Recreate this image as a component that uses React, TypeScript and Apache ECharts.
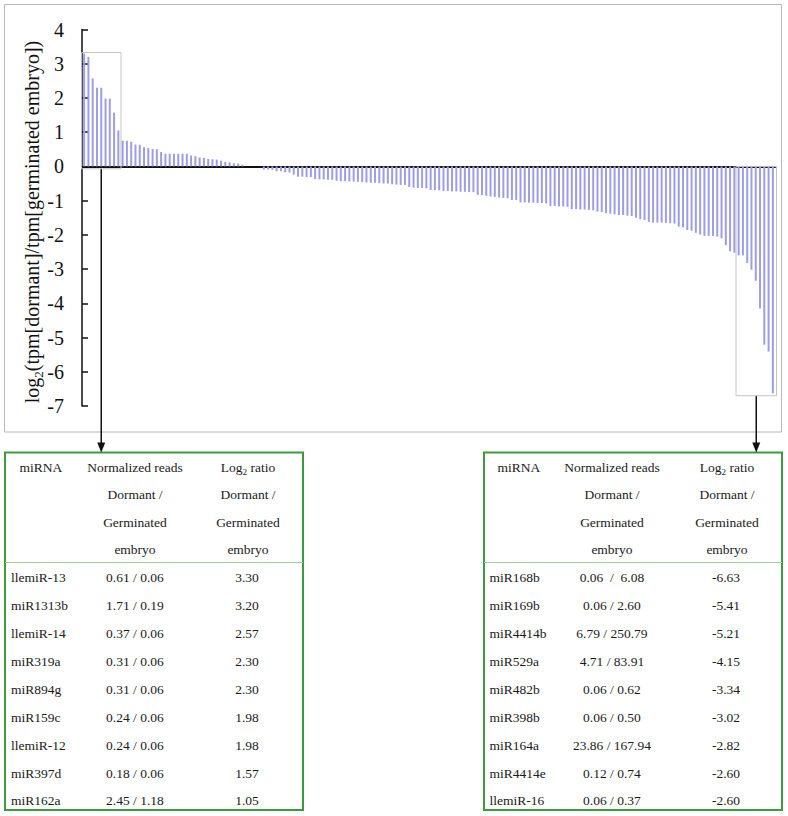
import React, { useEffect, useRef } from 'react';
import * as echarts from 'echarts';

const FONT = '"Liberation Serif", "Times New Roman", serif';

// Table: most up-regulated in dormant embryo (left box)
const leftMiRNA = ['llemiR-13', 'miR1313b', 'llemiR-14', 'miR319a', 'miR894g', 'miR159c', 'llemiR-12', 'miR397d', 'miR162a'];
const leftReads = ['0.61 / 0.06', '1.71 / 0.19', '0.37 / 0.06', '0.31 / 0.06', '0.31 / 0.06', '0.24 / 0.06', '0.24 / 0.06', '0.18 / 0.06', '2.45 / 1.18'];
const leftRatio = [3.3, 3.2, 2.57, 2.3, 2.3, 1.98, 1.98, 1.57, 1.05];

// Table: most down-regulated (right box)
const rightMiRNA = ['miR168b', 'miR169b', 'miR4414b', 'miR529a', 'miR482b', 'miR398b', 'miR164a', 'miR4414e', 'llemiR-16'];
const rightReads = ['0.06  /  6.08', '0.06 / 2.60', '6.79 / 250.79', '4.71 / 83.91', '0.06 / 0.62', '0.06 / 0.50', '23.86 / 167.94', '0.12 / 0.74', '0.06 / 0.37'];
const rightRatio = [-6.63, -5.41, -5.21, -4.15, -3.34, -3.02, -2.82, -2.6, -2.6];

// Remaining bars
const positiveRest = [0.75, 0.75, 0.72, 0.64, 0.63, 0.56, 0.54, 0.51, 0.5, 0.42, 0.37, 0.37, 0.37, 0.37, 0.37, 0.37, 0.32, 0.3, 0.26, 0.25, 0.22, 0.21, 0.2, 0.17, 0.13, 0.12, 0.09, 0.08, 0.05];
const nearZero = [0, 0, 0, 0];
const negativeMiddle = [
  -0.09, -0.09, -0.1, -0.14, -0.14, -0.17, -0.18, -0.24,
  -0.3, -0.3, -0.31, -0.31, -0.37, -0.38, -0.38, -0.39, -0.39,
  -0.42, -0.43, -0.43, -0.44, -0.44, -0.45, -0.46,
  -0.47, -0.48, -0.48, -0.49, -0.5, -0.5,
  -0.52, -0.53, -0.54, -0.54, -0.6, -0.62, -0.63, -0.63, -0.64,
  -0.69, -0.69, -0.7, -0.72, -0.72, -0.73, -0.73, -0.74, -0.74, -0.75, -0.75,
  -0.83, -0.84, -0.86, -0.88, -0.89, -0.91, -0.92, -0.93, -0.98, -0.98,
  -1.05, -1.05, -1.06, -1.06, -1.07, -1.07, -1.08,
  -1.16, -1.16, -1.17, -1.17, -1.18,
  -1.25, -1.25, -1.26, -1.26, -1.27, -1.28, -1.32, -1.33,
  -1.37, -1.38, -1.4, -1.42, -1.42, -1.44, -1.45, -1.5, -1.54, -1.57,
  -1.62, -1.64, -1.64, -1.64, -1.65, -1.66, -1.67, -1.76, -1.78, -1.86,
  -1.88, -1.94, -1.99, -2.03, -2.03, -2.03, -2.05, -2.1, -2.3, -2.48, -2.52,
];

const barValues = [...leftRatio, ...positiveRest, ...nearZero, ...negativeMiddle, ...rightRatio.slice().reverse()];
const categories = barValues.map((_, i) => String(i + 1));

const headerCol2 = ['Normalized reads', 'Dormant /', 'Germinated', 'embryo'];
const headerCol3 = ['{a|Log}{s|2}{a| ratio}', 'Dormant /', 'Germinated', 'embryo'];

const TXT = '#1a1a1a';
const GREEN = '#3d9a3d';

function tableGraphics(
  boxX: number, boxW: number,
  nameLeft: number, mirnaCenter: number, col2Center: number, col3Center: number,
  names: string[], reads: string[], ratios: number[],
) {
  const els: any[] = [];
  const top = 452.5;
  const bottom = 810;
  els.push({ type: 'rect', shape: { x: boxX, y: top, width: boxW, height: bottom - top }, style: { fill: '#fff', stroke: GREEN, lineWidth: 2 }, z: 1 });
  els.push({ type: 'line', shape: { x1: boxX, y1: 562.5, x2: boxX + boxW, y2: 562.5 }, style: { stroke: '#9fcf9f', lineWidth: 1 }, z: 2 });
  const base = { fontSize: 13.5, fontFamily: FONT, fill: TXT, verticalAlign: 'middle' };
  const hy = [467, 494.5, 522, 549.5];
  els.push({ type: 'text', z: 3, style: { ...base, text: 'miRNA', x: mirnaCenter, y: hy[0], align: 'center' } });
  headerCol2.forEach((t, k) => els.push({ type: 'text', z: 3, style: { ...base, text: t, x: col2Center, y: hy[k], align: 'center' } }));
  headerCol3.forEach((t, k) => els.push({
    type: 'text', z: 3,
    style: {
      ...base, text: t, x: col3Center, y: hy[k], align: 'center',
      rich: {
        a: { fontSize: 13.5, fontFamily: FONT, fill: TXT, lineHeight: 18 },
        s: { fontSize: 9, fontFamily: FONT, fill: TXT, verticalAlign: 'bottom', lineHeight: 12 },
      },
    },
  }));
  names.forEach((n, k) => {
    const y = 577.7 + 27.9 * k;
    els.push({ type: 'text', z: 3, style: { ...base, text: n, x: nameLeft, y, align: 'left' } });
    els.push({ type: 'text', z: 3, style: { ...base, text: reads[k], x: col2Center, y, align: 'center' } });
    els.push({ type: 'text', z: 3, style: { ...base, text: ratios[k].toFixed(2), x: col3Center - 1, y, align: 'center' } });
  });
  return els;
}

export default function App() {
  const ref = useRef<HTMLDivElement>(null);
  useEffect(() => {
    const chart = echarts.init(ref.current!, null, { renderer: 'svg' });
    chart.setOption({
      animation: false,
      backgroundColor: '#fff',
      grid: { left: 82, right: 13, top: 29.5, bottom: 410 },
      xAxis: {
        type: 'category',
        data: categories,
        axisLine: { onZero: true, lineStyle: { color: '#111', width: 2 } },
        axisTick: { show: false },
        axisLabel: { show: false },
        splitLine: { show: false },
      },
      yAxis: {
        type: 'value',
        min: -7,
        max: 4,
        interval: 1,
        axisLine: { show: true, lineStyle: { color: '#111', width: 1.5 } },
        axisTick: { show: true, inside: true, length: 6, lineStyle: { color: '#111', width: 1.5 } },
        axisLabel: { fontSize: 20, fontFamily: FONT, color: '#111', margin: 18 },
        splitLine: { show: false },
      },
      series: [{
        type: 'bar',
        data: barValues,
        barWidth: 2,
        itemStyle: { color: '#9d9de6' },
        silent: true,
      }],
    });

    const px = (i: number, v: number) => chart.convertToPixel({ gridIndex: 0 }, [i, v]) as number[];
    const bw = px(1, 0)[0] - px(0, 0)[0];
    const n = barValues.length;
    const lx0 = px(0, 0)[0] - bw / 2 - 0.5;
    const lx1 = px(leftRatio.length - 1, 0)[0] + bw / 2 + 0.5;
    const ly0 = px(0, leftRatio[0])[1] - 1;
    const ly1 = px(0, -0.07)[1];
    const rx0 = px(n - rightRatio.length, 0)[0] - bw / 2 - 0.5;
    const rx1 = px(n - 1, 0)[0] + bw / 2 + 1.5;
    const ry0 = px(0, 0)[1];
    const ry1 = px(0, -6.7)[1];
    const lcx = (lx0 + lx1) / 2;
    const rcx = (rx0 + rx1) / 2;
    const tableTop = 452.5;

    const arrow = (x: number, y0: number) => [
      { type: 'line', z: 5, shape: { x1: x, y1: y0, x2: x, y2: tableTop - 8 }, style: { stroke: '#111', lineWidth: 1.5 } },
      { type: 'polygon', z: 5, shape: { points: [[x - 4, tableTop - 10], [x + 4, tableTop - 10], [x, tableTop]] }, style: { fill: '#111' } },
    ];

    chart.setOption({
      graphic: [
        { type: 'rect', z: -1, silent: true, shape: { x: 4.5, y: 4.5, width: 777, height: 427.5 }, style: { fill: 'none', stroke: '#b8b8b8', lineWidth: 1 } },
        { type: 'rect', z: 10, silent: true, shape: { x: lx0, y: ly0, width: lx1 - lx0, height: ly1 - ly0 }, style: { fill: 'none', stroke: '#c4c4c4', lineWidth: 1 } },
        { type: 'rect', z: 10, silent: true, shape: { x: rx0, y: ry0, width: rx1 - rx0, height: ry1 - ry0 }, style: { fill: 'none', stroke: '#c4c4c4', lineWidth: 1 } },
        ...arrow(lcx, ly1),
        ...arrow(rcx, ry1),
        {
          type: 'text', z: 5, x: 32, y: 222, rotation: Math.PI / 2,
          style: {
            text: '{a|log}{s|2}{a|(tpm[dormant]/tpm[germinated embryo])}',
            align: 'center', verticalAlign: 'middle',
            rich: {
              a: { fontSize: 20, fontFamily: FONT, fill: '#111', lineHeight: 26 },
              s: { fontSize: 13, fontFamily: FONT, fill: '#111', verticalAlign: 'bottom', lineHeight: 16 },
            },
          },
        },
        ...tableGraphics(5, 298, 11, 41, 135, 248, leftMiRNA, leftReads, leftRatio),
        ...tableGraphics(484, 298, 489.5, 519, 612, 727, rightMiRNA, rightReads, rightRatio),
      ],
    });

    return () => chart.dispose();
  }, []);
  return <div ref={ref} style={{ position: 'fixed', left: 0, top: 0, width: 788, height: 816, background: '#fff' }} />;
}
